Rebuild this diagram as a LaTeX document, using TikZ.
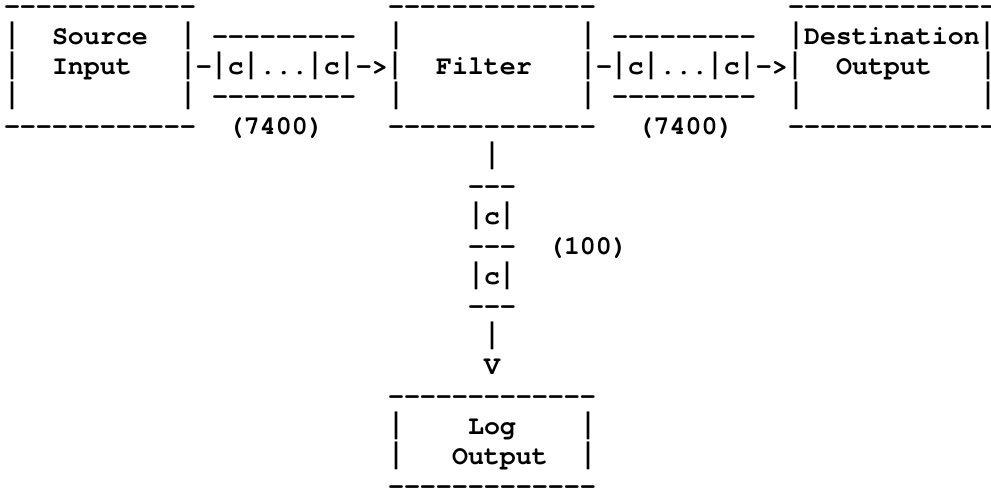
\documentclass[tikz,border=0pt]{standalone}
\usepackage{fontspec}
\usepackage{graphicx}
\setmonofont{texgyrecursor}[Extension=.otf, UprightFont=*-regular, BoldFont=*-bold]
\usepackage{tikz}

% a taller bar, so the box sides nearly run together from line to line
\newcommand\vbar{\raisebox{-0.3pt}{\scalebox{1}[1.35]{|}}}

\begin{document}
\begin{tikzpicture}[
        x=8pt, y=-15pt,
        ch/.style={anchor=base west, inner sep=0pt, outer sep=0pt, yshift=-4pt,
            font=\ttfamily\bfseries\fontsize{13.33pt}{15pt}\selectfont}
    ]
    \useasboundingbox (-0.25,-0.2) rectangle (61.6875,16.1);

    % ============ box rules ============
    \node[ch] (srcTop) at (0,0) {------------};
    \node[ch] (srcBot) at (0,4) {------------};
    \node[ch] (filTop) at (24,0) {-------------};
    \node[ch] (filBot) at (24,4) {-------------};
    \node[ch] (dstTop) at (49,0) {-------------};
    \node[ch] (dstBot) at (49,4) {-------------};
    \node[ch] (logTop) at (24,13) {-------------};
    \node[ch] (logBot) at (24,16) {-------------};

    % box sides
    \foreach \r in {1,3} {
        \node[ch] (srcL\r) at (0,\r) {\vbar};
        \node[ch] (srcR\r) at (11,\r) {\vbar};
        \node[ch] (filL\r) at (24,\r) {\vbar};
        \node[ch] (filR\r) at (36,\r) {\vbar};
    }
    \node[ch] (srcL2) at (0,2) {\vbar};
    \node[ch] (dstR2) at (61,2) {\vbar};
    \node[ch] (dstL3) at (49,3) {\vbar};
    \node[ch] (dstR3) at (61,3) {\vbar};
    \foreach \r in {14,15} {
        \node[ch] (logL\r) at (24,\r) {\vbar};
        \node[ch] (logR\r) at (36,\r) {\vbar};
    }

    % ============ box labels ============
    \node[ch] (srcName) at (3,1) {Source};
    \node[ch] (srcKind) at (3,2) {Input};
    \node[ch] (filName) at (27,2) {Filter};
    \node[ch] (dstName) at (49,1) {\vbar Destination\vbar};
    \node[ch] (dstKind) at (52,2) {Output};
    \node[ch] (logName) at (29,14) {Log};
    \node[ch] (logKind) at (28,15) {Output};

    % ============ queues between the boxes ============
    \foreach \c/\q in {11/inQ, 36/outQ} {
        \node[ch] (\q-top) at (\c+2,1) {---------};
        \node[ch] (\q) at (\c,2) {\vbar-\vbar c\vbar...\vbar c\vbar->\vbar};
        \node[ch] (\q-bot) at (\c+2,3) {---------};
    }
    \node[ch] (inSize) at (14,4) {(7400)};
    \node[ch] (outSize) at (39.6,4) {(7400)};

    % ============ queue down to the log ============
    \node[ch] (logIn) at (30,5) {\vbar};
    \foreach \r in {6,8,10} \node[ch] (logSep\r) at (29,\r) {---};
    \foreach \r in {7,9} \node[ch] (logCell\r) at (29,\r) {\vbar c\vbar};
    \node[ch] (logSize) at (34,8) {(100)};
    \node[ch] (logStem) at (30,11) {\vbar};
    \node[ch] (logTip) at (30,12) {V};
\end{tikzpicture}
\end{document}
